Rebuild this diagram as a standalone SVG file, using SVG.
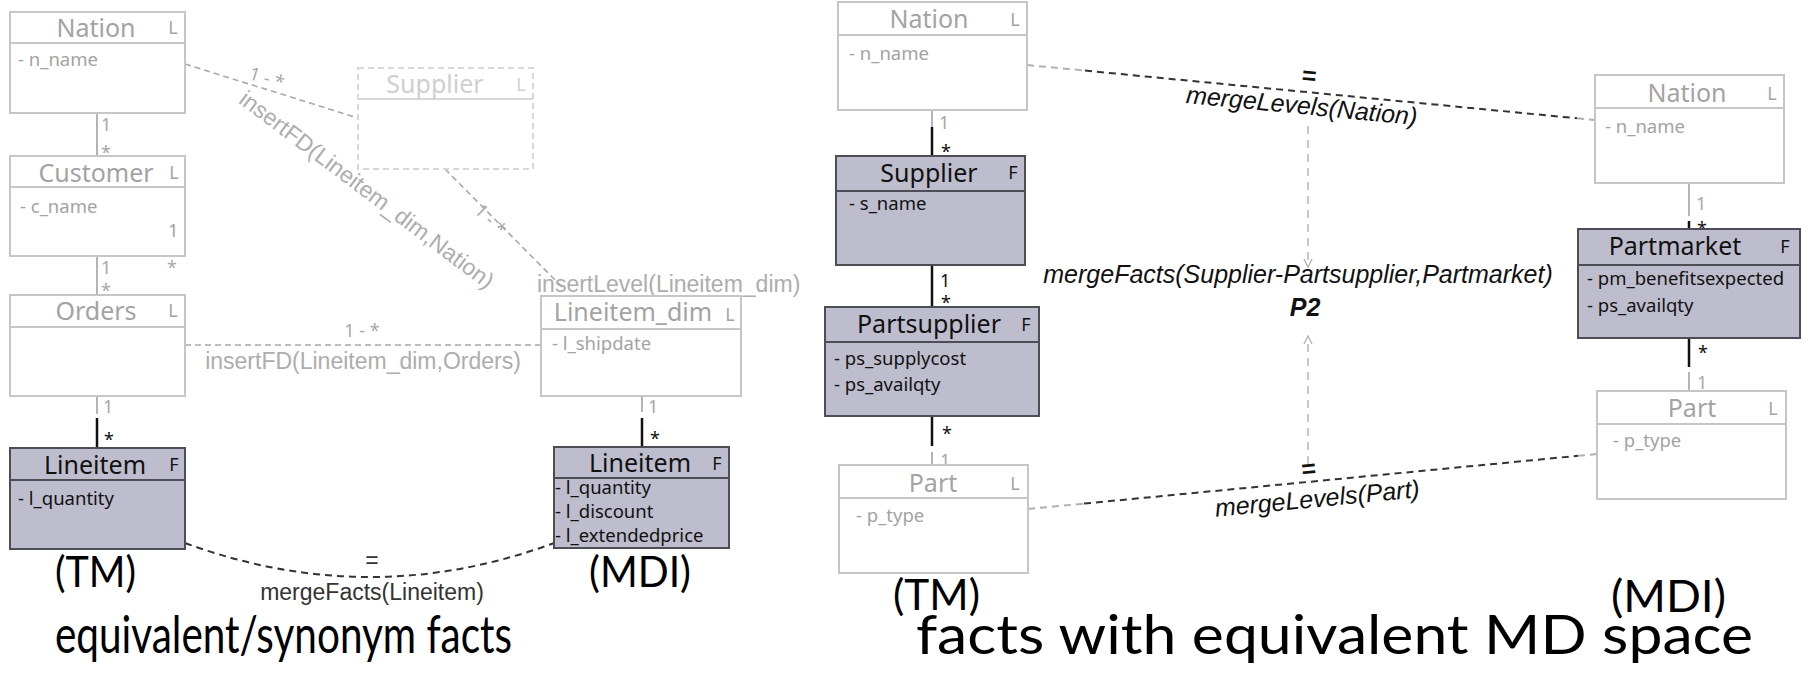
<svg xmlns="http://www.w3.org/2000/svg" width="1811" height="690" viewBox="0 0 1811 690">
  <defs>
    <style>
      .box { stroke-width: 2; }
      .lvl .box { fill: #ffffff; stroke: #c6c6c6; }
      .fct .box { fill: #bdbdcd; stroke: #4d4d55; }
      .ghost .box { fill: #ffffff; stroke: #d8d8d8; stroke-dasharray: 6 4; }
      .div { stroke-width: 2; }
      .lvl .div { stroke: #c6c6c6; }
      .fct .div { stroke: #4d4d55; }
      .ghost .div { stroke: #d8d8d8; }
      .ttl { font-family: "Noto Sans", "DejaVu Sans", sans-serif; font-size: 25px; text-anchor: middle; }
      .atr { font-family: "Noto Sans", "DejaVu Sans", sans-serif; font-size: 18.5px; }
      .tag { font-family: "Noto Sans", "DejaVu Sans", sans-serif; font-size: 18px; text-anchor: middle; }
      .lvl text { fill: #a3a3a3; }
      .fct text { fill: #111111; }
      .ghost text { fill: #cfcfcf; }
      .mul { font-family: "Noto Sans", "DejaVu Sans", sans-serif; font-size: 18px; }
      .g { fill: #a8a8a8; }
      .k { fill: #111111; }
      .lg { stroke: #b4b4b4; stroke-width: 2; fill: none; }
      .lk { stroke: #111111; stroke-width: 2.5; fill: none; }
      .ins { stroke: #a8a8a8; stroke-width: 1.6; stroke-dasharray: 6 4; fill: none; }
      .merge { stroke: #333333; stroke-width: 2; stroke-dasharray: 7 5; fill: none; }
      .mergeg { stroke: #b0b0b0; stroke-width: 2; stroke-dasharray: 7 5; fill: none; }
      .arr { stroke: #b0b0b0; stroke-width: 1.4; stroke-dasharray: 8 6; fill: none; }
      .lbl { font-family: "Liberation Sans", Arial, sans-serif; font-size: 23px; fill: #adadad; }
      .lblk { font-family: "Liberation Sans", Arial, sans-serif; font-size: 23px; fill: #333333; }
      .it { font-family: "Liberation Sans", Arial, sans-serif; font-size: 25px; font-style: italic; fill: #111111; }
      .cap { font-family: Lato, "Open Sans", sans-serif; fill: #000000; }
    </style>
    <marker id="open" viewBox="0 0 10 10" refX="9" refY="5" markerWidth="10" markerHeight="10" markerUnits="userSpaceOnUse" orient="auto">
      <path d="M1,1 L9,5 L1,9" fill="none" stroke="#b0b0b0" stroke-width="1.3"/>
    </marker>
  </defs>

  <!-- ============ left schema: equivalent / synonym facts ============ -->
  <g id="connectors-left">
    <line class="lg" x1="97" y1="113" x2="97" y2="156"/>
    <text class="mul g" x="101" y="131">1</text>
    <text class="mul g" x="101" y="159">*</text>
    <line class="lg" x1="97" y1="256" x2="97" y2="295"/>
    <text class="mul g" x="101" y="274">1</text>
    <text class="mul g" x="101" y="297">*</text>
    <text class="mul g" x="167" y="274">*</text>
    <line class="lg" x1="97" y1="396" x2="97" y2="414"/>
    <line class="lk" x1="97" y1="418" x2="97" y2="448"/>
    <text class="mul g" x="103" y="413">1</text>
    <text class="mul k" x="104" y="446">*</text>
    <line class="lg" x1="642" y1="396" x2="642" y2="412"/>
    <line class="lk" x1="642" y1="418" x2="642" y2="447"/>
    <text class="mul g" x="648" y="413">1</text>
    <text class="mul k" x="650" y="445">*</text>

    <line class="ins" x1="185" y1="64" x2="358" y2="118"/>
    <text class="mul g" font-size="17" text-anchor="middle" transform="translate(265,84) rotate(17)">1 - *</text>
    <text class="lbl" text-anchor="middle" transform="translate(362,196) rotate(37)">insertFD(Lineitem_dim,Nation)</text>

    <line class="ins" x1="445" y1="169" x2="565" y2="290"/>
    <text class="mul g" font-size="17" text-anchor="middle" transform="translate(486,224) rotate(45)">1 - *</text>
    <text class="lbl" x="537" y="292">insertLevel(Lineitem_dim)</text>

    <line class="ins" x1="185" y1="345" x2="541" y2="345"/>
    <text class="mul g" text-anchor="middle" x="362" y="337">1 - *</text>
    <text class="lbl" text-anchor="middle" x="363" y="369">insertFD(Lineitem_dim,Orders)</text>

    <path class="merge" d="M185,543 Q370,611 554,543"/>
    <text class="lblk" font-size="18" text-anchor="middle" x="372" y="568">=</text>
    <text class="lblk" text-anchor="middle" x="372" y="600">mergeFacts(Lineitem)</text>
  </g>

  <g id="nation-l" class="lvl">
    <rect class="box" x="10" y="12" width="175" height="101"/>
    <line class="div" x1="10" y1="43" x2="185" y2="43"/>
    <text class="ttl" x="96" y="37">Nation</text>
    <text class="tag" x="173" y="34">L</text>
    <text class="atr" x="18" y="66">- n_name</text>
  </g>
  <g id="customer-l" class="lvl">
    <rect class="box" x="10" y="156" width="175" height="100"/>
    <line class="div" x1="10" y1="187" x2="185" y2="187"/>
    <text class="ttl" x="96" y="182">Customer</text>
    <text class="tag" x="174" y="179">L</text>
    <text class="atr" x="20" y="213">- c_name</text>
    <text class="atr" x="168" y="237">1</text>
  </g>
  <g id="orders-l" class="lvl">
    <rect class="box" x="10" y="295" width="175" height="101"/>
    <line class="div" x1="10" y1="327" x2="185" y2="327"/>
    <text class="ttl" x="96" y="320">Orders</text>
    <text class="tag" x="173" y="317">L</text>
  </g>
  <g id="lineitem-l" class="fct">
    <rect class="box" x="10" y="448" width="175" height="101"/>
    <line class="div" x1="10" y1="480" x2="185" y2="480"/>
    <text class="ttl" x="95" y="474">Lineitem</text>
    <text class="tag" x="174" y="471">F</text>
    <text class="atr" x="18" y="505">- l_quantity</text>
  </g>
  <g id="supplier-l" class="ghost">
    <rect class="box" x="358" y="68" width="175" height="101"/>
    <line class="div" x1="358" y1="99" x2="533" y2="99"/>
    <text class="ttl" x="435" y="93">Supplier</text>
    <text class="tag" x="521" y="91">L</text>
  </g>
  <g id="lineitem-dim" class="lvl">
    <rect class="box" x="541" y="296" width="200" height="100"/>
    <line class="div" x1="541" y1="329" x2="741" y2="329"/>
    <text class="ttl" x="633" y="321">Lineitem_dim</text>
    <text class="tag" x="730" y="321">L</text>
    <text class="atr" x="552" y="350">- l_shipdate</text>
  </g>
  <g id="lineitem-mdi-l" class="fct">
    <rect class="box" x="554" y="447" width="175" height="101"/>
    <line class="div" x1="554" y1="478" x2="729" y2="478"/>
    <text class="ttl" x="640" y="472">Lineitem</text>
    <text class="tag" x="717" y="470">F</text>
    <text class="atr" x="555" y="494">- l_quantity</text>
    <text class="atr" x="555" y="518">- l_discount</text>
    <text class="atr" x="555" y="542">- l_extendedprice</text>
  </g>

  <!-- ============ right schema: facts with equivalent MD space ============ -->
  <g id="connectors-right">
    <line class="lg" x1="932" y1="110" x2="932" y2="127"/>
    <line class="lk" x1="932" y1="127" x2="932" y2="156"/>
    <text class="mul g" x="939" y="129">1</text>
    <text class="mul k" x="941" y="158">*</text>
    <line class="lk" x1="932" y1="265" x2="932" y2="307"/>
    <text class="mul k" x="940" y="287">1</text>
    <text class="mul k" x="941" y="309">*</text>
    <line class="lk" x1="932" y1="416" x2="932" y2="446"/>
    <line class="lg" x1="932" y1="452" x2="932" y2="465"/>
    <text class="mul k" x="942" y="440">*</text>
    <text class="mul g" x="940" y="467">1</text>
    <line class="lg" x1="1689" y1="183" x2="1689" y2="216"/>
    <line class="lk" x1="1689" y1="221" x2="1689" y2="229"/>
    <text class="mul g" x="1696" y="210">1</text>
    <text class="mul k" x="1697" y="235">*</text>
    <line class="lk" x1="1689" y1="338" x2="1689" y2="367"/>
    <line class="lg" x1="1689" y1="372" x2="1689" y2="391"/>
    <text class="mul k" x="1698" y="359">*</text>
    <text class="mul g" x="1697" y="389">1</text>

    <line class="mergeg" x1="1027" y1="65" x2="1085" y2="70.6"/>
    <line class="merge" x1="1085" y1="70.6" x2="1577" y2="118.3"/>
    <line class="mergeg" x1="1577" y1="118.3" x2="1595" y2="120"/>
    <text class="it" font-style="normal" font-weight="bold" font-size="22" text-anchor="middle" transform="translate(1308,84) rotate(5.5)">=</text>
    <text class="it" text-anchor="middle" transform="translate(1301,114) rotate(5.5)">mergeLevels(Nation)</text>

    <line class="mergeg" x1="1028" y1="509" x2="1084" y2="503.6"/>
    <line class="merge" x1="1084" y1="503.6" x2="1578" y2="455.8"/>
    <line class="mergeg" x1="1578" y1="455.8" x2="1597" y2="454"/>
    <text class="it" font-style="normal" font-weight="bold" font-size="22" text-anchor="middle" transform="translate(1309,477) rotate(-5.5)">=</text>
    <text class="it" text-anchor="middle" transform="translate(1318,507) rotate(-5.5)">mergeLevels(Part)</text>

    <line class="arr" x1="1308" y1="126" x2="1308" y2="267" marker-end="url(#open)"/>
    <line class="arr" x1="1308" y1="464" x2="1308" y2="336" marker-end="url(#open)"/>
    <text class="it" text-anchor="middle" x="1298" y="283">mergeFacts(Supplier-Partsupplier,Partmarket)</text>
    <text class="it" font-weight="bold" font-size="20" text-anchor="middle" x="1305" y="316">P2</text>
  </g>

  <g id="nation-tm" class="lvl">
    <rect class="box" x="838" y="2" width="189" height="108"/>
    <line class="div" x1="838" y1="35" x2="1027" y2="35"/>
    <text class="ttl" x="929" y="28">Nation</text>
    <text class="tag" x="1015" y="26">L</text>
    <text class="atr" x="849" y="60">- n_name</text>
  </g>
  <g id="supplier-tm" class="fct">
    <rect class="box" x="836" y="156" width="189" height="109"/>
    <line class="div" x1="836" y1="191" x2="1025" y2="191"/>
    <text class="ttl" x="929" y="182">Supplier</text>
    <text class="tag" x="1013" y="179">F</text>
    <text class="atr" x="849" y="210">- s_name</text>
  </g>
  <g id="partsupplier-tm" class="fct">
    <rect class="box" x="825" y="307" width="214" height="109"/>
    <line class="div" x1="825" y1="342" x2="1039" y2="342"/>
    <text class="ttl" x="929" y="333">Partsupplier</text>
    <text class="tag" x="1026" y="331">F</text>
    <text class="atr" x="834" y="365">- ps_supplycost</text>
    <text class="atr" x="834" y="391">- ps_availqty</text>
  </g>
  <g id="part-tm" class="lvl">
    <rect class="box" x="839" y="465" width="189" height="108"/>
    <line class="div" x1="839" y1="498" x2="1028" y2="498"/>
    <text class="ttl" x="933" y="492">Part</text>
    <text class="tag" x="1015" y="490">L</text>
    <text class="atr" x="856" y="522">- p_type</text>
  </g>
  <g id="nation-mdi" class="lvl">
    <rect class="box" x="1595" y="75" width="189" height="108"/>
    <line class="div" x1="1595" y1="108" x2="1784" y2="108"/>
    <text class="ttl" x="1687" y="102">Nation</text>
    <text class="tag" x="1772" y="100">L</text>
    <text class="atr" x="1605" y="133">- n_name</text>
  </g>
  <g id="partmarket-mdi" class="fct">
    <rect class="box" x="1578" y="229" width="222" height="109"/>
    <line class="div" x1="1578" y1="265" x2="1800" y2="265"/>
    <text class="ttl" x="1675" y="255">Partmarket</text>
    <text class="tag" x="1785" y="253">F</text>
    <text class="atr" x="1587" y="285">- pm_benefitsexpected</text>
    <text class="atr" x="1587" y="312">- ps_availqty</text>
  </g>
  <g id="part-mdi" class="lvl">
    <rect class="box" x="1597" y="391" width="189" height="108"/>
    <line class="div" x1="1597" y1="424" x2="1786" y2="424"/>
    <text class="ttl" x="1692" y="417">Part</text>
    <text class="tag" x="1773" y="415">L</text>
    <text class="atr" x="1613" y="447">- p_type</text>
  </g>

  <!-- captions -->
  <g id="captions">
    <text class="cap" font-size="43" x="55" y="587" textLength="81" lengthAdjust="spacingAndGlyphs">(TM)</text>
    <text class="cap" font-size="43" x="589" y="587" textLength="102" lengthAdjust="spacingAndGlyphs">(MDI)</text>
    <text class="cap" font-size="42" x="893" y="610" textLength="87" lengthAdjust="spacingAndGlyphs">(TM)</text>
    <text class="cap" font-size="44" x="1611" y="612" textLength="115" lengthAdjust="spacingAndGlyphs">(MDI)</text>
    <text class="cap" font-size="52" x="55" y="653" textLength="457" lengthAdjust="spacingAndGlyphs">equivalent/synonym facts</text>
    <text class="cap" font-size="55" x="916" y="654" textLength="837" lengthAdjust="spacingAndGlyphs">facts with equivalent MD space</text>
  </g>
</svg>
